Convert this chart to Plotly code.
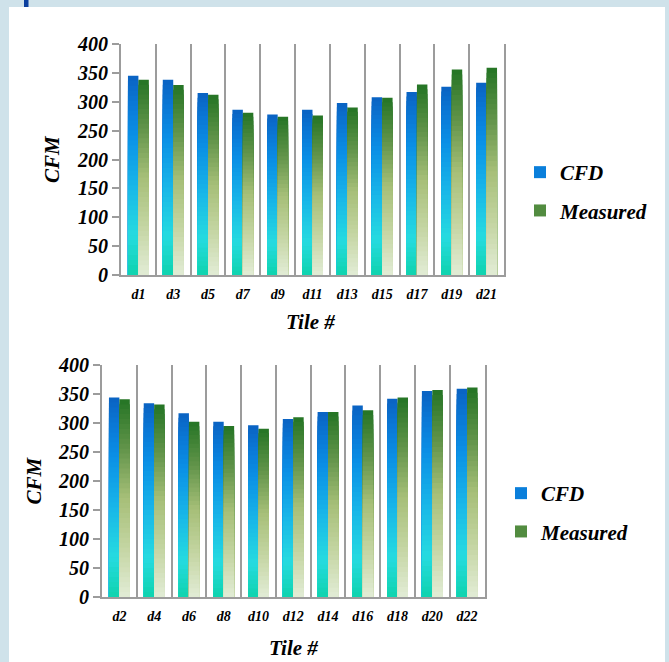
import plotly.graph_objects as go

# ---------------- data ----------------
tiles_top = ["d1", "d3", "d5", "d7", "d9", "d11", "d13", "d15", "d17", "d19", "d21"]
cfd_top = [345, 338, 315, 286, 278, 286, 298, 308, 317, 326, 333]
meas_top = [338, 329, 312, 281, 274, 276, 290, 307, 330, 356, 359]

tiles_bot = ["d2", "d4", "d6", "d8", "d10", "d12", "d14", "d16", "d18", "d20", "d22"]
cfd_bot = [344, 334, 317, 302, 296, 307, 319, 330, 342, 355, 359]
meas_bot = [341, 332, 302, 295, 290, 310, 319, 322, 344, 357, 361]

y_ticks = [0, 50, 100, 150, 200, 250, 300, 350, 400]
series_names = ["CFD", "Measured"]

# ---------------- style ----------------
W, H = 669, 662
FONT = "Liberation Serif"
GRID = "#9c9c9c"
CFD_STOPS = [(0.0, "#0ed3ae"), (0.2, "#26dbe0"), (0.45, "#18b6e8"),
             (0.7, "#0a90e6"), (0.86, "#0a78d6"), (1.0, "#0a62c2")]
MEAS_STOPS = [(0.0, "#e2ecd6"), (0.25, "#c4d5a2"), (0.5, "#a6bf78"),
              (0.75, "#62944a"), (1.0, "#247424")]
NSEG = 40


def hex2rgb(h):
    h = h.lstrip("#")
    return [int(h[i:i + 2], 16) for i in (0, 2, 4)]


def interp(stops, t):
    for (t0, c0), (t1, c1) in zip(stops[:-1], stops[1:]):
        if t <= t1:
            f = (t - t0) / (t1 - t0) if t1 > t0 else 0
            a, b = hex2rgb(c0), hex2rgb(c1)
            r = [round(a[i] + (b[i] - a[i]) * f) for i in range(3)]
            return "rgb(%d,%d,%d)" % tuple(r)
    return stops[-1][1]


def px_x(p):
    return p / W


def px_y(p):
    return 1 - p / H


fig = go.Figure()


def add_series(cats, vals, name, stops, group, xa, ya, legend, legend_rank):
    # overlapping bars from tallest (top colour) to shortest (bottom colour)
    for k in range(NSEG - 1, -1, -1):
        frac = (k + 1) / NSEG
        col = interp(stops, (k + 0.5) / NSEG)
        show = (k == int(NSEG * 0.8))
        fig.add_trace(go.Bar(
            x=cats, y=[v * frac for v in vals], name=name,
            marker=dict(color=col, line=dict(width=0)),
            offsetgroup=group, legendgroup=group + legend,
            showlegend=show, legend=legend, legendrank=legend_rank,
            xaxis=xa, yaxis=ya, hoverinfo="skip" if not show else None,
        ))


add_series(tiles_top, cfd_top, series_names[0], CFD_STOPS, "cfd", "x", "y", "legend", 1)
add_series(tiles_top, meas_top, series_names[1], MEAS_STOPS, "meas", "x", "y", "legend", 2)
add_series(tiles_bot, cfd_bot, series_names[0], CFD_STOPS, "cfd", "x2", "y2", "legend2", 1)
add_series(tiles_bot, meas_bot, series_names[1], MEAS_STOPS, "meas", "x2", "y2", "legend2", 2)

tick_font = dict(family=FONT, size=20, color="black", weight="bold", style="italic")
xtick_font = dict(family=FONT, size=14, color="black", weight="bold", style="italic")
title_font = dict(family=FONT, size=21, color="black", weight="bold", style="italic")
legend_font = dict(family=FONT, size=21, color="black", weight="bold", style="italic")


def xaxis_cfg(domain, anchor):
    return dict(domain=domain, anchor=anchor, type="category",
                range=[-0.5, 10.5], tickson="boundaries",
                showgrid=True, gridcolor=GRID, gridwidth=2,
                showline=True, linecolor=GRID, linewidth=2,
                ticks="", tickfont=xtick_font, ticklabelstandoff=5,
                automargin=False, fixedrange=True)


def yaxis_cfg(domain, anchor):
    return dict(domain=domain, anchor=anchor, range=[0, 400],
                tickvals=y_ticks, showgrid=False, zeroline=False,
                showline=True, linecolor=GRID, linewidth=2, mirror=True,
                ticks="outside", ticklen=7, tickwidth=2, tickcolor=GRID,
                tickfont=tick_font, automargin=False, fixedrange=True)


fig.update_layout(
    width=W, height=H, autosize=False,
    margin=dict(l=0, r=0, t=0, b=0, pad=0, autoexpand=False),
    paper_bgcolor="#cfe2ea", plot_bgcolor="rgba(0,0,0,0)",
    barmode="group", bargap=0.4, bargroupgap=0,
    xaxis=xaxis_cfg([px_x(121), px_x(504)], "y"),
    yaxis=yaxis_cfg([px_y(275), px_y(44)], "x"),
    xaxis2=xaxis_cfg([px_x(102), px_x(484.5)], "y2"),
    yaxis2=yaxis_cfg([px_y(597), px_y(365)], "x2"),
    legend=dict(x=px_x(520), y=px_y(152), xanchor="left", yanchor="top",
                font=legend_font, bgcolor="rgba(0,0,0,0)",
                traceorder="grouped", tracegroupgap=8, itemclick=False),
    legend2=dict(x=px_x(501), y=px_y(473), xanchor="left", yanchor="top",
                 font=legend_font, bgcolor="rgba(0,0,0,0)",
                 traceorder="grouped", tracegroupgap=8, itemclick=False),
    shapes=[
        dict(type="rect", xref="paper", yref="paper", layer="below",
             x0=px_x(9), x1=px_x(665), y0=0, y1=px_y(7),
             fillcolor="white", line=dict(width=0)),
        dict(type="rect", xref="paper", yref="paper", layer="below",
             x0=px_x(24), x1=px_x(28.5), y0=px_y(7), y1=1,
             fillcolor="#0b3f9e", line=dict(width=0)),
    ],
    annotations=[
        dict(text="CFM", xref="paper", yref="paper", x=px_x(52.5), y=px_y(159.5),
             textangle=-90, showarrow=False, font=title_font,
             xanchor="center", yanchor="middle"),
        dict(text="Tile #", xref="paper", yref="paper", x=px_x(310), y=px_y(322),
             showarrow=False, font=title_font, xanchor="center", yanchor="middle"),
        dict(text="CFM", xref="paper", yref="paper", x=px_x(33.5), y=px_y(481),
             textangle=-90, showarrow=False, font=title_font,
             xanchor="center", yanchor="middle"),
        dict(text="Tile #", xref="paper", yref="paper", x=px_x(293), y=px_y(648),
             showarrow=False, font=title_font, xanchor="center", yanchor="middle"),
    ],
)

fig.write_html(
    "out.html",
    config={"displayModeBar": False},
    post_script="document.body.style.margin='0';document.body.style.overflow='hidden';",
)
